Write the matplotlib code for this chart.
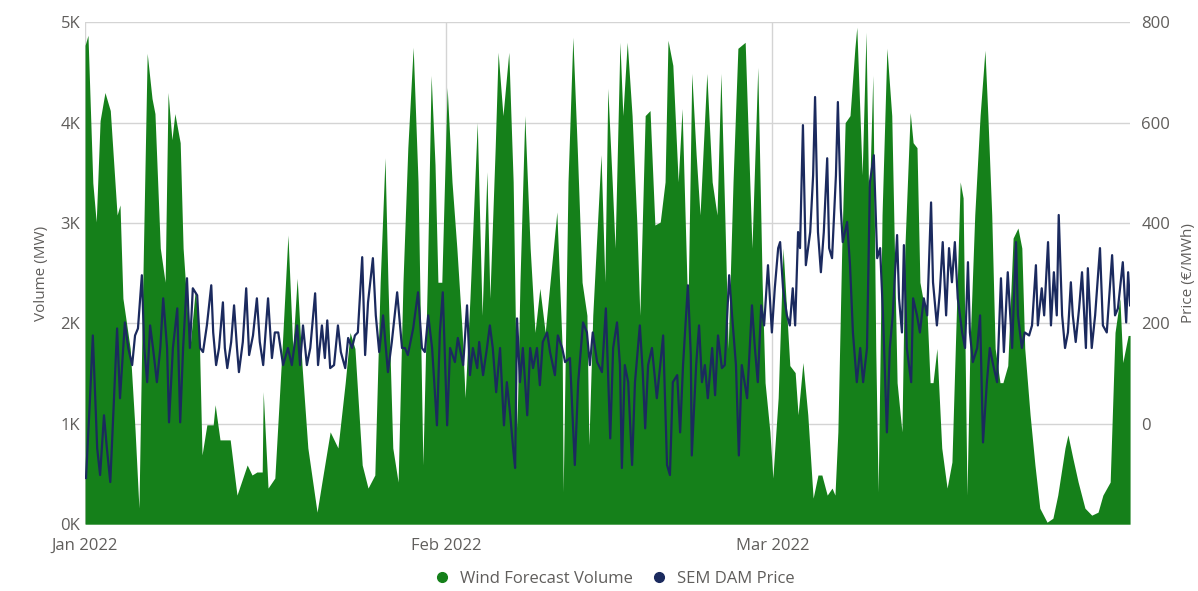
import matplotlib
matplotlib.use("Agg")
import matplotlib.pyplot as plt
import matplotlib.dates as mdates
from matplotlib.ticker import FuncFormatter
from matplotlib.lines import Line2D
import pandas as pd

plt.rcParams['font.family'] = ['Open Sans', 'DejaVu Sans']

start = pd.Timestamp("2022-01-01")

# wind forecast volume (MW), hours since 1 Jan 2022 -> value
wind_hours = [0, 6, 16, 23, 31, 41, 52, 66, 72, 78, 93, 103, 111, 119, 128, 138, 144, 155, 165, 171,
              179, 185, 196, 202, 216, 227, 235, 241, 251, 264, 268, 278, 299, 313, 334, 344, 354, 365, 367, 377,
              391, 406, 418, 428, 437, 447, 459, 478, 488, 505, 521, 536, 546, 556, 571, 583, 597, 608, 618, 624,
              634, 645, 655, 665, 676, 686, 696, 705, 713, 721, 727, 735, 746, 756, 766, 777, 783, 793, 808, 818,
              828, 834, 845, 851, 861, 873, 882, 890, 896, 906, 917, 927, 937, 948, 958, 972, 983, 985, 995, 1005,
              1014, 1024, 1034, 1038, 1046, 1063, 1071, 1077, 1086, 1092, 1102, 1108, 1117, 1127, 1137, 1143, 1154, 1164, 1174, 1185,
              1195, 1201, 1211, 1222, 1230, 1242, 1250, 1259, 1267, 1281, 1292, 1302, 1310, 1318, 1325, 1335, 1345, 1360, 1374, 1386,
              1395, 1401, 1411, 1417, 1428, 1438, 1446, 1452, 1463, 1469, 1479, 1489, 1500, 1510, 1518, 1529, 1539, 1545, 1551, 1559,
              1566, 1576, 1586, 1590, 1601, 1609, 1615, 1623, 1629, 1634, 1642, 1652, 1662, 1673, 1683, 1689, 1700, 1706, 1714, 1720,
              1726, 1735, 1741, 1747, 1755, 1765, 1776, 1786, 1796, 1803, 1809, 1817, 1823, 1833, 1844, 1854, 1860, 1868, 1875, 1885,
              1891, 1901, 1912, 1922, 1930, 1936, 1947, 1957, 1967, 1982, 1994, 2004, 2019, 2025, 2035, 2046, 2060, 2074, 2087, 2097,
              2112, 2122, 2132, 2138, 2149, 2153]
wind_mw = [4770, 4870, 3400, 3010, 4020, 4300, 4120, 3080, 3180, 2250, 1750, 940, 160, 2410, 4690, 4240, 4090, 2750, 2410, 4300,
           3830, 4090, 3800, 2750, 1750, 2330, 1930, 690, 990, 990, 1190, 840, 840, 290, 590, 490, 520, 520, 1320, 360,
           460, 1750, 2880, 1750, 2450, 1580, 760, 120, 420, 920, 760, 1410, 1910, 1750, 590, 360, 490, 2410, 3650, 2410,
           760, 420, 2410, 3750, 4750, 3410, 590, 2410, 4470, 3580, 2410, 2410, 4350, 3410, 2750, 1910, 1260, 2250, 4000, 2080,
           3510, 2250, 3750, 4700, 4070, 4700, 3410, 960, 2410, 4070, 2750, 1910, 2350, 1910, 2410, 3110, 1750, 320, 3410, 4850,
           3750, 2410, 2080, 790, 2080, 3680, 2410, 4340, 3410, 2750, 4800, 4070, 4800, 4070, 2980, 2080, 4070, 4120, 2980, 3010,
           3410, 4820, 4570, 3410, 4140, 2080, 4490, 3680, 3080, 4490, 3410, 3080, 4490, 3080, 1750, 3410, 4740, 4800, 2750, 4550,
           2410, 1410, 920, 460, 1260, 2750, 2080, 1580, 1510, 1090, 1610, 1090, 260, 490, 490, 290, 360, 290, 920, 2750,
           4000, 4070, 4740, 4950, 3480, 4900, 3080, 4470, 1750, 320, 3080, 4740, 4070, 1410, 920, 2750, 4100, 3800, 3750, 2410,
           2250, 2080, 1410, 1410, 1750, 760, 360, 620, 2250, 3410, 3250, 290, 1750, 3080, 4070, 4720, 4070, 3080, 1750, 1410,
           1410, 1580, 2850, 2950, 2750, 1750, 1090, 590, 160, 20, 60, 290, 760, 890, 660, 420, 160, 90, 120, 290,
           420, 1910, 2250, 1610, 1880, 1880]

# SEM day-ahead price (EUR/MWh), hours since 1 Jan 2022 -> value
price_hours = [2, 10, 16, 25, 31, 39, 45, 52, 58, 66, 72, 82, 89, 97, 103, 109, 117, 122, 128, 134,
               140, 148, 155, 161, 169, 173, 181, 190, 196, 202, 210, 216, 222, 231, 237, 243, 251, 260, 264, 270,
               276, 284, 288, 293, 301, 307, 313, 317, 325, 332, 338, 346, 354, 360, 367, 377, 385, 391, 398, 408,
               418, 426, 437, 443, 449, 457, 464, 474, 480, 488, 494, 499, 505, 513, 521, 527, 536, 542, 550, 556,
               562, 571, 577, 583, 593, 599, 606, 614, 624, 632, 643, 653, 659, 665, 676, 686, 694, 700, 707, 715,
               725, 731, 737, 746, 752, 762, 768, 779, 787, 793, 799, 808, 812, 820, 828, 834, 840, 847, 855, 863,
               869, 876, 882, 886, 890, 896, 902, 911, 917, 923, 931, 937, 943, 952, 958, 968, 974, 983, 989, 999,
               1009, 1016, 1026, 1034, 1040, 1046, 1055, 1065, 1073, 1082, 1088, 1096, 1102, 1106, 1112, 1119, 1127, 1133, 1143, 1149,
               1154, 1160, 1168, 1178, 1185, 1191, 1199, 1205, 1211, 1220, 1226, 1232, 1242, 1248, 1250, 1259, 1265, 1271, 1277, 1283,
               1292, 1298, 1304, 1312, 1318, 1327, 1333, 1341, 1347, 1353, 1364, 1374, 1380, 1386, 1393, 1399, 1407, 1415, 1421, 1428,
               1432, 1438, 1446, 1452, 1458, 1463, 1469, 1473, 1479, 1485, 1494, 1500, 1504, 1510, 1516, 1522, 1529, 1533, 1539, 1547,
               1551, 1557, 1561, 1570, 1576, 1582, 1590, 1597, 1603, 1611, 1617, 1625, 1632, 1638, 1644, 1652, 1658, 1664, 1673, 1677,
               1683, 1687, 1693, 1702, 1706, 1714, 1720, 1728, 1735, 1743, 1747, 1755, 1761, 1767, 1774, 1780, 1786, 1792, 1798, 1807,
               1813, 1819, 1823, 1829, 1838, 1844, 1850, 1858, 1864, 1871, 1879, 1887, 1893, 1901, 1906, 1910, 1918, 1922, 1930, 1936,
               1945, 1951, 1959, 1963, 1971, 1976, 1984, 1990, 1996, 2002, 2006, 2013, 2019, 2025, 2031, 2035, 2041, 2048, 2054, 2062,
               2066, 2074, 2081, 2091, 2097, 2105, 2116, 2122, 2128, 2138, 2145, 2149, 2153]
price_eur = [-108, 47, 176, -49, -102, 17, -49, -116, 17, 190, 51, 202, 151, 117, 176, 190, 296, 151, 83, 196,
             151, 83, 151, 250, 151, 3, 151, 230, 3, 151, 290, 151, 270, 256, 151, 143, 196, 276, 182, 117,
             151, 242, 151, 111, 163, 236, 151, 103, 163, 270, 137, 176, 250, 163, 117, 250, 131, 182, 182, 117,
             151, 117, 196, 117, 196, 117, 151, 260, 117, 196, 131, 206, 111, 117, 196, 143, 111, 171, 151, 176,
             182, 332, 137, 242, 330, 216, 143, 216, 103, 163, 262, 151, 151, 137, 190, 262, 151, 143, 216, 151,
             -3, 182, 262, -3, 151, 123, 171, 117, 236, 97, 151, 111, 163, 97, 151, 196, 151, 63, 151, -3,
             83, 17, -49, -88, 210, 83, 151, 17, 151, 111, 151, 77, 163, 182, 143, 97, 176, 151, 123, 131,
             -82, 83, 202, 182, 117, 182, 123, 103, 230, -29, 151, 202, 117, -88, 117, 83, -82, 83, 196, 103,
             -9, 117, 151, 51, 117, 176, -82, -102, 83, 97, -17, 117, 276, 137, -63, 117, 196, 83, 117, 51,
             151, 57, 176, 111, 117, 296, 216, 117, -63, 117, 51, 236, 151, 83, 236, 196, 316, 182, 270, 350,
             362, 270, 216, 196, 270, 196, 382, 350, 595, 316, 382, 495, 651, 382, 302, 382, 529, 350, 330, 495,
             641, 429, 362, 402, 316, 182, 83, 151, 83, 151, 481, 535, 330, 350, 216, -17, 151, 216, 376, 250,
             182, 356, 151, 83, 250, 216, 182, 250, 216, 441, 282, 196, 262, 362, 216, 350, 282, 362, 250, 182,
             151, 322, 182, 123, 151, 216, -37, 83, 151, 117, 83, 290, 143, 302, 216, 151, 362, 216, 151, 182,
             176, 196, 316, 196, 270, 216, 362, 196, 302, 216, 416, 216, 151, 182, 282, 216, 163, 230, 302, 151,
             310, 151, 216, 350, 196, 182, 336, 216, 230, 322, 202, 302, 236]

GREEN = "#15801a"
NAVY = "#1b2a5e"
GREY = "#605e5c"

wind_time = (start + pd.to_timedelta(wind_hours, unit="h")).to_pydatetime()
price_time = (start + pd.to_timedelta(price_hours, unit="h")).to_pydatetime()

fig = plt.figure(figsize=(11.98, 5.91), dpi=100)
ax = fig.add_axes([0.071, 0.113, 0.8723, 0.8494])
ax.fill_between(wind_time, wind_mw, 0, color=GREEN, lw=0)
ax.set_ylim(0, 5000)
ax.set_xlim(start.to_pydatetime(), wind_time[-1])
ax.set_yticks([0, 1000, 2000, 3000, 4000, 5000])
ax.yaxis.set_major_formatter(FuncFormatter(lambda v, p: f"{int(v / 1000)}K"))
ax.xaxis.set_major_locator(mdates.MonthLocator())
ax.xaxis.set_major_formatter(mdates.DateFormatter("%b %Y"))
ax.set_axisbelow(True)
ax.grid(True, color="#d4d4d4", lw=1)
ax.set_ylabel("Volume (MW)", color=GREY, fontsize=11, labelpad=8)
ax.tick_params(axis="both", length=0, colors=GREY, labelsize=12)
ax.tick_params(axis="x", pad=10)
for s in ax.spines.values():
    s.set_visible(False)

ax2 = ax.twinx()
ax2.plot(price_time, price_eur, color=NAVY, lw=1.6)
ax2.set_ylim(-200, 800)
ax2.set_yticks([0, 200, 400, 600, 800])
ax2.set_ylabel("Price (€/MWh)", color=GREY, fontsize=11, labelpad=8)
ax2.tick_params(axis="y", length=0, colors=GREY, labelsize=12, pad=8)
for s in ax2.spines.values():
    s.set_visible(False)

handles = [Line2D([], [], ls="", marker="o", ms=7, color=GREEN),
           Line2D([], [], ls="", marker="o", ms=7, color=NAVY)]
fig.legend(handles, ["Wind Forecast Volume", "SEM DAM Price"], loc="center",
           bbox_to_anchor=(0.509, 0.02), ncol=2, frameon=False, fontsize=12,
           handletextpad=0.05, columnspacing=0.6, labelcolor=GREY)

fig.savefig("out.png", dpi=100)
